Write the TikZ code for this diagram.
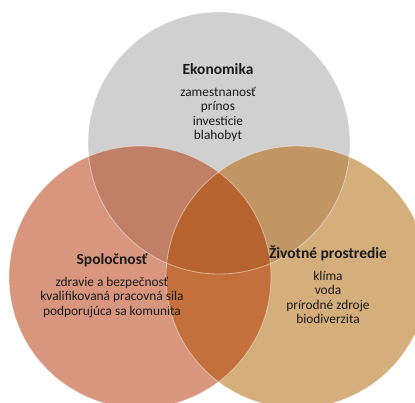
\documentclass[tikz,border=0pt]{standalone}
\usepackage{fontspec}
\setmainfont{Carlito}
\usetikzlibrary{positioning}
\definecolor{ekogray}{HTML}{D0D0D0}
\definecolor{spolred}{HTML}{D8967E}
\definecolor{zivtan}{HTML}{D4AE7B}
\definecolor{ekospol}{HTML}{BF8067}
\definecolor{ekoziv}{HTML}{C09664}
\definecolor{spolziv}{HTML}{C4703C}
\definecolor{allthree}{HTML}{B7632F}
\definecolor{txt}{HTML}{1A1A1A}
\tikzset{
  title/.style={inner sep=0pt, text=txt, font=\fontsize{11}{13}\selectfont\bfseries},
  items/.style={inner sep=0pt, align=center, text=txt, font=\fontsize{9.5}{10.2}\selectfont},
  rim/.style={draw=white, draw opacity=0.45, line width=0.6pt}
}
\begin{document}
\begin{tikzpicture}[x=0.025cm,y=-0.025cm]
    \useasboundingbox (0,0) rectangle (415,402);
    \coordinate (ce) at (219,143);
    \coordinate (cs) at (140,277);
    \coordinate (cz) at (297,277);

    \fill[ekogray] (ce) circle[radius=131];
    \fill[spolred] (cs) circle[radius=131];
    \fill[zivtan] (cz) circle[radius=131];
    % overlaps
    \begin{scope}
      \clip (cs) circle[radius=131];
      \fill[ekospol] (ce) circle[radius=131];
    \end{scope}
    \begin{scope}
      \clip (cz) circle[radius=131];
      \fill[ekoziv] (ce) circle[radius=131];
    \end{scope}
    \begin{scope}
      \clip (cs) circle[radius=131];
      \fill[spolziv] (cz) circle[radius=131];
    \end{scope}
    \begin{scope}
      \clip (cs) circle[radius=131];
      \clip (cz) circle[radius=131];
      \fill[allthree] (ce) circle[radius=131];
    \end{scope}
    \draw[rim] (ce) circle[radius=131];
    \draw[rim] (cs) circle[radius=131];
    \draw[rim] (cz) circle[radius=131];

    \node[title] (eko) at (218,69) {Ekonomika};
    \node[items, below=3mm of eko] (ekolist) {zamestnanosť\\prínos\\investície\\blahobyt};
    \node[title] (spol) at (112,260) {Spoločnosť};
    \node[items, below=2.5mm of spol] (spollist) {zdravie a bezpečnosť\\kvalifikovaná pracovná sila\\podporujúca sa komunita};
    \node[title] (ziv) at (328,253) {Životné prostredie};
    \node[items, below=2.5mm of ziv] (zivlist) {klíma\\voda\\prírodné zdroje\\biodiverzita};
  \end{tikzpicture}
\end{document}
